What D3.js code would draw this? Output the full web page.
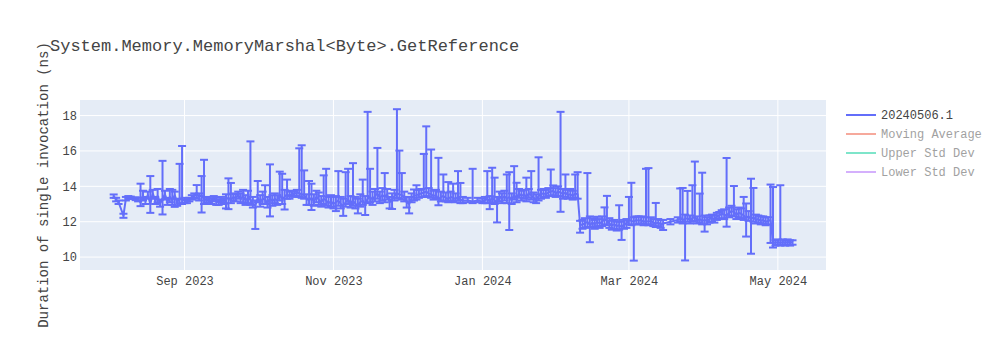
<!DOCTYPE html>
<html><head><meta charset="utf-8">
<script src="https://cdn.jsdelivr.net/npm/d3@7"></script>
<style>body{margin:0;background:#fff}text{font-family:"Liberation Mono","Courier New",monospace}</style>
</head><body><svg id="c" width="1000" height="350"></svg>
<script>
const title = "System.Memory.MemoryMarshal<Byte>.GetReference";
const yTitle = "Duration of single invocation (ns)";
const legendNames = ["20240506.1","Moving Average","Upper Std Dev","Lower Std Dev"];
const legendColors = ["#636efa","#EF553B","#00cc96","#ab63fa"];
const legendVisible = [true,false,false,false];
const xTicks = ["2023-09-01","2023-11-01","2024-01-01","2024-03-01","2024-05-01"];
const xTickLabels = ["Sep 2023","Nov 2023","Jan 2024","Mar 2024","May 2024"];
const yTicks = [10,12,14,16,18];
const xRange = ["2023-07-20T05:00","2024-05-20T17:00"];
const yRange = [9.27,18.88];

const dates = [
"2023-08-03","2023-08-04","2023-08-05","2023-08-07","2023-08-08","2023-08-09","2023-08-10","2023-08-12","2023-08-13","2023-08-14","2023-08-15","2023-08-16","2023-08-17","2023-08-18","2023-08-19","2023-08-20","2023-08-21","2023-08-22","2023-08-23","2023-08-24","2023-08-25","2023-08-26","2023-08-27","2023-08-28","2023-08-29","2023-08-30","2023-08-31",
"2023-09-01","2023-09-02","2023-09-03","2023-09-04","2023-09-05","2023-09-06","2023-09-07","2023-09-08","2023-09-09","2023-09-10","2023-09-11","2023-09-12","2023-09-13","2023-09-14","2023-09-15","2023-09-16","2023-09-17","2023-09-18","2023-09-19","2023-09-20","2023-09-21","2023-09-22","2023-09-23","2023-09-24","2023-09-25","2023-09-26","2023-09-27","2023-09-28","2023-09-29","2023-09-30",
"2023-10-01","2023-10-02","2023-10-03","2023-10-04","2023-10-05","2023-10-06","2023-10-07","2023-10-08","2023-10-09","2023-10-10","2023-10-11","2023-10-12","2023-10-13","2023-10-14","2023-10-15","2023-10-16","2023-10-17","2023-10-18","2023-10-19","2023-10-20","2023-10-21","2023-10-22","2023-10-23","2023-10-24","2023-10-25","2023-10-26","2023-10-27","2023-10-28","2023-10-29","2023-10-30","2023-10-31",
"2023-11-01","2023-11-02","2023-11-03","2023-11-04","2023-11-05","2023-11-06","2023-11-07","2023-11-08","2023-11-09","2023-11-10","2023-11-11","2023-11-12","2023-11-13","2023-11-14","2023-11-15","2023-11-16","2023-11-17","2023-11-18","2023-11-19","2023-11-20","2023-11-21","2023-11-22","2023-11-23","2023-11-24","2023-11-25","2023-11-26","2023-11-27","2023-11-28","2023-11-29","2023-11-30",
"2023-12-01","2023-12-02","2023-12-03","2023-12-04","2023-12-05","2023-12-06","2023-12-07","2023-12-08","2023-12-09","2023-12-10","2023-12-11","2023-12-12","2023-12-13","2023-12-14","2023-12-15","2023-12-16","2023-12-17","2023-12-18","2023-12-19","2023-12-20","2023-12-21","2023-12-22","2023-12-23","2023-12-24","2023-12-26","2023-12-28","2023-12-30",
"2024-01-01","2024-01-02","2024-01-03","2024-01-04","2024-01-05","2024-01-06","2024-01-07","2024-01-08","2024-01-09","2024-01-10","2024-01-11","2024-01-12","2024-01-13","2024-01-14","2024-01-15","2024-01-16","2024-01-17","2024-01-18","2024-01-19","2024-01-20","2024-01-21","2024-01-22","2024-01-23","2024-01-24","2024-01-25","2024-01-26","2024-01-27","2024-01-28","2024-01-29","2024-01-30","2024-01-31",
"2024-02-01","2024-02-02","2024-02-03","2024-02-04","2024-02-05","2024-02-06","2024-02-07","2024-02-08","2024-02-09","2024-02-10","2024-02-11","2024-02-12","2024-02-13","2024-02-14","2024-02-15","2024-02-16","2024-02-17","2024-02-18","2024-02-19","2024-02-20","2024-02-21","2024-02-22","2024-02-23","2024-02-24","2024-02-25","2024-02-26","2024-02-27","2024-02-28","2024-02-29",
"2024-03-01","2024-03-02","2024-03-03","2024-03-04","2024-03-05","2024-03-06","2024-03-07","2024-03-08","2024-03-09","2024-03-10","2024-03-11","2024-03-12","2024-03-13","2024-03-14","2024-03-15","2024-03-18","2024-03-21","2024-03-22","2024-03-23","2024-03-24","2024-03-25","2024-03-26","2024-03-27","2024-03-28","2024-03-29","2024-03-30","2024-03-31",
"2024-04-01","2024-04-02","2024-04-03","2024-04-04","2024-04-05","2024-04-06","2024-04-07","2024-04-08","2024-04-09","2024-04-10","2024-04-11","2024-04-12","2024-04-13","2024-04-14","2024-04-15","2024-04-16","2024-04-17","2024-04-18","2024-04-19","2024-04-20","2024-04-21","2024-04-22","2024-04-23","2024-04-24","2024-04-25","2024-04-26","2024-04-27","2024-04-28","2024-04-29","2024-04-30",
"2024-05-01","2024-05-02","2024-05-03","2024-05-04","2024-05-05","2024-05-06","2024-05-07"];

const values = [
13.45,13.25,13.10,12.35,13.30,13.38,13.35,13.30,13.25,13.10,13.40,13.20,13.50,13.00,13.60,13.20,13.45,13.05,13.30,13.55,13.15,13.40,13.20,13.50,13.10,13.30,13.25,
13.20,13.15,13.25,13.35,13.45,13.55,13.40,13.50,13.30,13.20,13.25,13.15,13.30,13.20,13.10,13.25,13.15,13.30,13.35,13.25,13.40,13.35,13.50,13.30,13.45,13.20,13.35,13.25,13.00,12.90,
13.35,13.10,13.30,13.25,13.05,13.35,13.15,13.30,13.20,13.50,13.30,13.40,13.55,13.45,13.60,13.55,13.65,13.60,13.55,13.50,13.30,13.20,13.35,13.15,13.40,13.25,13.10,13.30,13.20,13.05,13.15,
13.00,13.10,13.20,13.00,12.90,13.10,13.25,13.05,13.20,13.00,12.95,13.10,13.20,13.00,13.30,13.40,13.25,13.45,13.60,13.35,13.50,13.40,13.55,13.10,13.25,13.45,13.60,13.55,13.50,13.40,
13.10,13.00,13.35,13.45,13.50,13.55,13.60,13.65,13.70,13.60,13.55,13.45,13.50,13.25,13.40,13.45,13.35,13.30,13.40,13.35,13.30,13.40,13.25,13.20,13.20,13.15,13.20,
13.15,13.20,13.30,13.15,13.35,13.20,13.10,13.40,13.30,13.45,13.30,13.40,13.25,13.50,13.35,13.60,13.45,13.55,13.40,13.60,13.50,13.35,13.25,13.45,13.55,13.60,13.55,13.65,13.70,13.75,13.60,
13.70,13.65,13.55,13.65,13.50,13.55,13.45,13.60,13.55,11.80,11.85,11.90,12.00,11.80,11.95,11.85,12.00,11.90,12.00,12.15,12.05,11.90,11.80,11.85,11.75,11.80,11.70,11.85,11.90,
12.10,12.05,12.00,12.10,12.05,12.10,12.00,12.05,12.00,12.05,11.95,11.90,11.95,11.85,11.90,12.00,12.10,12.20,12.10,12.15,12.20,12.10,12.20,12.25,12.10,12.15,12.05,
12.10,12.05,12.15,12.20,12.15,12.30,12.35,12.45,12.40,12.35,12.50,12.60,12.55,12.40,12.50,12.45,12.35,12.20,12.30,12.15,12.25,12.10,12.15,12.05,12.10,12.00,12.05,12.10,10.85,10.80,
10.85,10.80,10.85,10.80,10.85,10.80,10.85];

const highs = [
13.54,13.35,13.20,12.45,13.40,13.45,13.42,13.38,13.35,14.15,13.75,13.40,13.70,14.58,13.80,13.40,13.85,13.25,15.44,13.75,13.35,13.85,13.80,13.70,13.30,15.27,16.28,
13.35,13.25,13.35,13.50,13.60,14.07,13.60,14.58,15.50,13.35,13.40,13.30,13.45,13.35,13.25,13.40,13.30,13.55,14.45,14.19,13.60,13.55,13.70,13.60,13.80,13.50,13.75,16.54,13.40,13.20,
14.30,13.50,13.70,14.06,13.40,15.24,13.50,13.60,13.50,14.83,14.71,13.80,14.38,13.70,13.75,13.70,13.80,16.15,16.32,14.90,13.55,14.30,14.15,13.55,13.75,13.65,13.45,14.62,14.99,13.40,13.50,
13.40,13.45,14.86,13.40,13.30,14.80,14.99,13.45,15.31,13.40,13.30,13.55,14.38,13.45,18.21,14.99,13.70,13.85,16.17,13.70,13.90,14.75,13.85,13.40,13.60,13.80,18.36,16.02,14.75,13.70,
13.40,13.40,13.60,13.82,14.06,13.80,13.85,15.83,17.39,13.90,16.08,13.75,13.80,15.61,13.70,14.67,13.65,14.24,13.70,14.15,13.60,14.86,14.19,13.40,13.35,14.99,13.35,
13.30,13.40,14.86,13.45,15.05,14.49,13.40,13.70,13.60,13.75,14.67,14.80,13.60,15.14,14.20,13.85,13.75,13.80,14.49,13.85,14.86,13.65,13.55,15.64,13.80,13.85,13.80,13.90,14.95,14.05,13.90,
14.00,18.21,13.85,14.67,13.80,13.85,13.75,14.67,14.80,12.05,12.10,12.20,14.75,12.30,12.20,12.10,12.28,12.15,12.30,12.81,13.46,12.20,12.05,12.10,12.00,12.93,12.00,12.10,12.15,
13.40,14.20,12.25,12.30,12.30,12.30,12.25,14.99,15.03,12.25,12.15,13.06,12.15,12.10,12.10,12.15,12.25,13.88,13.91,12.40,13.74,12.35,14.06,15.40,12.30,13.59,14.77,
12.35,12.25,12.35,12.40,12.35,12.50,12.55,12.65,12.70,15.60,12.80,12.90,14.02,12.70,12.80,12.75,13.40,13.03,12.60,14.43,13.91,12.40,12.35,12.30,12.30,12.25,12.25,14.10,13.96,10.95,
11.00,14.06,11.00,10.95,11.00,10.95,10.95];

const lows = [
13.35,13.15,13.00,12.22,13.20,13.30,13.28,13.22,13.15,12.88,13.20,13.00,13.30,12.50,13.30,13.00,13.10,12.85,12.41,13.25,12.95,13.10,12.95,12.84,12.90,13.05,13.00,
13.05,13.05,13.15,13.25,13.35,13.30,13.20,12.52,13.00,13.05,13.10,13.00,13.15,12.95,12.95,13.10,13.00,12.75,12.71,13.05,13.20,13.15,13.30,13.05,13.10,12.95,13.05,12.95,12.80,11.59,
13.10,12.85,13.00,13.00,12.80,12.30,12.90,13.05,12.95,13.20,13.00,12.69,13.30,13.30,13.45,13.40,13.45,13.40,13.35,13.30,12.95,12.95,12.66,12.90,13.10,12.95,12.85,13.00,12.90,12.80,12.85,
12.75,12.60,12.90,12.75,12.33,12.85,13.00,12.80,12.90,12.75,12.47,12.85,12.95,12.38,13.05,13.10,12.95,13.15,13.30,13.05,13.20,13.10,13.25,12.75,12.72,13.20,13.35,13.30,13.25,13.15,
12.80,12.47,13.10,13.20,13.25,13.35,13.40,13.40,13.45,13.40,13.35,13.25,13.30,12.93,13.15,13.20,13.15,13.10,13.20,13.15,13.10,13.20,13.05,13.05,13.10,13.05,13.10,
13.05,13.05,13.05,12.71,13.10,13.00,11.96,13.15,13.05,13.20,13.05,11.53,13.00,13.25,13.10,13.35,13.20,13.30,13.15,13.35,13.25,13.10,13.05,13.20,13.30,13.40,13.35,13.45,13.45,13.50,13.40,
13.45,12.56,13.30,13.40,13.30,13.35,13.25,13.35,13.30,11.38,11.60,11.65,11.70,10.84,11.70,11.60,11.75,11.65,11.75,11.85,11.80,11.65,11.55,11.60,11.50,11.55,10.97,11.60,11.65,
11.85,11.80,9.80,11.85,11.85,11.90,11.80,11.85,11.80,11.85,11.75,11.70,11.75,11.65,11.53,11.85,11.95,12.00,11.90,9.81,12.00,11.90,12.00,12.05,11.90,11.95,11.85,
11.44,11.85,11.95,12.00,11.95,12.10,12.15,12.20,12.15,11.72,12.25,12.35,12.30,12.15,12.25,12.20,12.10,11.16,12.05,10.19,12.00,11.90,11.95,11.85,11.90,11.80,11.85,10.80,10.54,10.65,
10.70,10.65,10.70,10.65,10.70,10.65,10.70];

const W = 1000, H = 350;
const m = {l: 80, r: 174, t: 100, b: 80};
const pw = W - m.l - m.r, ph = H - m.t - m.b;
const svg = d3.select("#c");
const pd = d3.timeParse("%Y-%m-%d");
const pdt = d3.timeParse("%Y-%m-%dT%H:%M");

const x = d3.scaleTime().domain(xRange.map(pdt)).range([m.l, m.l + pw]);
const y = d3.scaleLinear().domain(yRange).range([m.t + ph, m.t]);

const pts = dates.map((d, i) => ({d: pd(d), v: values[i], hi: highs[i], lo: lows[i]}));

svg.append("rect").attr("x", m.l).attr("y", m.t).attr("width", pw).attr("height", ph).attr("fill", "#E5ECF6");

const grid = svg.append("g");
yTicks.forEach(t => grid.append("line").attr("x1", m.l).attr("x2", m.l + pw).attr("y1", y(t)).attr("y2", y(t)).attr("stroke", "#fff").attr("stroke-width", 1));
xTicks.forEach(t => grid.append("line").attr("x1", x(pd(t))).attr("x2", x(pd(t))).attr("y1", m.t).attr("y2", m.t + ph).attr("stroke", "#fff").attr("stroke-width", 1));

// axes
const xa = svg.append("g").attr("transform", `translate(0,${m.t + ph})`)
  .call(d3.axisBottom(x).tickValues(xTicks.map(pd)).tickFormat((d, i) => xTickLabels[i]).tickSize(0).tickPadding(6));
const ya = svg.append("g").attr("transform", `translate(${m.l},0)`)
  .call(d3.axisLeft(y).tickValues(yTicks).tickSize(0).tickPadding(3));
[xa, ya].forEach(a => {
  a.select(".domain").remove();
  a.selectAll("text").attr("fill", "#444").style("font-size", "12px").style("font-family", '"Liberation Mono","Courier New",monospace');
});

// data
const clip = svg.append("defs").append("clipPath").attr("id", "clp").append("rect")
  .attr("x", m.l).attr("y", m.t).attr("width", pw).attr("height", ph);
const g = svg.append("g").attr("clip-path", "url(#clp)");
const col = legendColors[0];
const line = d3.line().x(p => x(p.d)).y(p => y(p.v));
g.append("path").datum(pts).attr("d", line).attr("fill", "none").attr("stroke", col).attr("stroke-width", 2).attr("stroke-linejoin", "round");
const eb = g.append("g").attr("stroke", col).attr("stroke-width", 2);
pts.forEach(p => {
  const px = x(p.d);
  eb.append("line").attr("x1", px).attr("x2", px).attr("y1", y(p.hi)).attr("y2", y(p.lo));
  eb.append("line").attr("x1", px - 4).attr("x2", px + 4).attr("y1", y(p.hi)).attr("y2", y(p.hi));
  eb.append("line").attr("x1", px - 4).attr("x2", px + 4).attr("y1", y(p.lo)).attr("y2", y(p.lo));
});

// title
svg.append("text").attr("x", 50).attr("y", 51).attr("fill", "#444").style("font-size", "17px").text(title);
svg.append("text").attr("transform", `translate(48,${m.t + ph / 2}) rotate(-90)`).attr("text-anchor", "middle")
  .attr("fill", "#444").style("font-size", "14px").text(yTitle);

// legend
const lg = svg.append("g");
legendNames.forEach((n, i) => {
  const yy = 115 + i * 19;
  const it = lg.append("g").attr("opacity", legendVisible[i] ? 1 : 0.5);
  it.append("line").attr("x1", 846).attr("x2", 876).attr("y1", yy).attr("y2", yy).attr("stroke", legendColors[i]).attr("stroke-width", 2);
  it.append("text").attr("x", 881).attr("y", yy).attr("dy", "0.35em").attr("fill", "#444").style("font-size", "12px").text(n);
});
</script></body></html>
